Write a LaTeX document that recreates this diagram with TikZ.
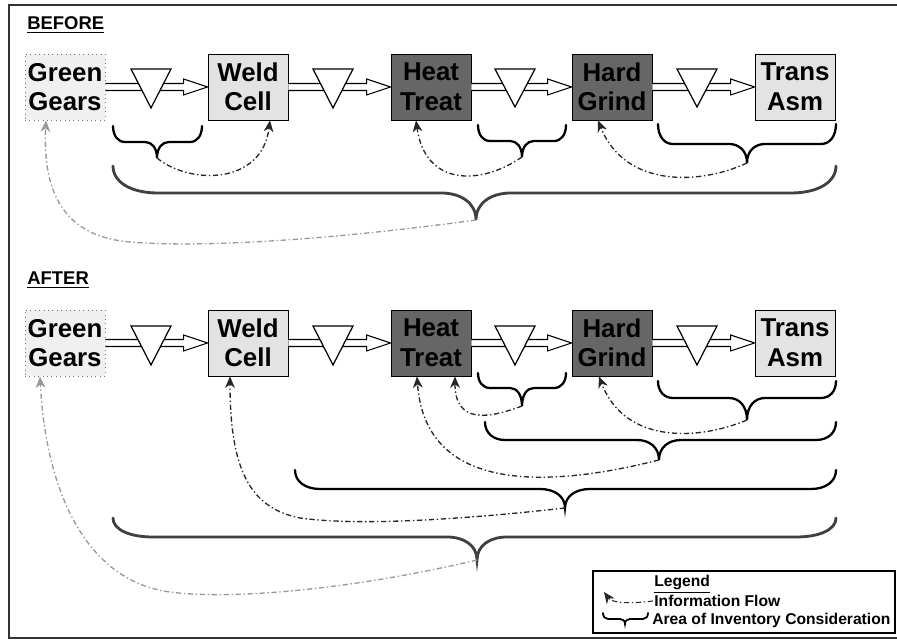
\documentclass[tikz,border=0pt]{standalone}
\usepackage{fontspec}
\setmainfont{Liberation Sans}
\usetikzlibrary{calc,arrows.meta}
\tikzset{
 box/.style={draw=black, line width=0.5pt, minimum width=1.6cm, minimum height=1.32cm, inner sep=0pt, align=center, font=\bfseries\fontsize{14.7}{16.8}\selectfont},
 gbox/.style={box, draw=black!55, dotted, fill=gray!12},
 lbox/.style={box, fill=gray!22},
 dbox/.style={box, fill=black!60},
 hollow/.style={draw=black, line width=0.6pt, fill=white, line join=miter},
 inv/.style={draw=black, line width=0.7pt, fill=white, line join=miter},
 brc/.style={line width=1.3pt, black, line cap=round},
 flow/.style={line width=0.75pt, black!85, dash pattern=on 3pt off 1.5pt on 0.8pt off 1.5pt, -{Stealth[length=6.5pt,width=5.5pt,inset=2pt]}},
 gflow/.style={flow, black!40},
 lbl/.style={font=\bfseries\fontsize{10.5}{12}\selectfont, inner sep=0pt, anchor=base west},
 leg/.style={font=\bfseries\fontsize{8.9}{11}\selectfont, inner sep=0pt, anchor=base west},
}
% brace: [opts] x1 x2 xm ytop yhoriz ytip Rend Rmid
\newcommand\invbrace[9][]{%
 \draw[brc,#1] (#2,#5) .. controls (#2,{#5+0.6*(#6-#5)}) and ({#2+0.4*#8},#6) .. ({#2+#8},#6)
  -- ({#4-#9},#6) .. controls ({#4-0.45*#9},#6) and (#4,{#6+0.35*(#7-#6)}) .. (#4,#7)
  .. controls (#4,{#6+0.35*(#7-#6)}) and ({#4+0.45*#9},#6) .. ({#4+#9},#6)
  -- ({#3-#8},#6) .. controls ({#3-0.4*#8},#6) and (#3,{#5+0.6*(#6-#5)}) .. (#3,#5);}
\newcommand\hollowarrow[2]{%
 \draw[hollow] ($(#1.east)+(0,-3.5)$) -- ($(#2.west)+(-24,-3.5)$) -- ($(#2.west)+(-24,-8)$)
  -- (#2.west) -- ($(#2.west)+(-24,8)$) -- ($(#2.west)+(-24,3.5)$) -- ($(#1.east)+(0,3.5)$);}
\newcommand\invtri[3]{\draw[inv] ({#1-20},#2) -- ({#1+20},#2) -- (#1,#3) -- cycle;}
\begin{document}
\begin{tikzpicture}[x={(0.02cm,0)}, y={(0,-0.02cm)}]
\useasboundingbox (0,0) rectangle (897,641);
\fill[white] (0,0) rectangle (897,641);
\draw[line width=1pt, black!80] (905,5) -- (9,5) -- (9,638) -- (905,638);

% ---------- BEFORE ----------
\node[lbl] (lb1) at (27,30) {\underline{BEFORE}};
\node[gbox] (gg1) at (65,87) {Green\\Gears};
\node[lbox] (wc1) at (248,87) {Weld\\Cell};
\node[dbox] (ht1) at (431,87) {Heat\\Treat};
\node[dbox] (hg1) at (612,87) {Hard\\Grind};
\node[lbox] (ta1) at (795,87) {Trans\\Asm};
\hollowarrow{gg1}{wc1}
\hollowarrow{wc1}{ht1}
\hollowarrow{ht1}{hg1}
\hollowarrow{hg1}{ta1}
\invtri{151}{69}{108}
\invtri{333}{69}{108}
\invtri{515}{69}{107}
\invtri{697}{69}{107}
\invbrace{113}{202}{157}{126}{142}{158}{12}{12}
\invbrace{478}{566}{522}{125}{141}{157}{12}{12}
\invbrace{658}{836}{747}{124}{144}{163}{15}{18}
\invbrace[black!75,line width=1.6pt]{113}{836}{476}{166}{193}{220}{45}{35}
\coordinate (t11) at (157,158);
\coordinate (t12) at (522,157);
\coordinate (t13) at (747,163);
\coordinate (t14) at (476,220);
\draw[flow] (t11) .. controls (190,185) and (262,185) .. ($(wc1.south)+(22,0)$);
\draw[flow] (t12) .. controls (480,186) and (425,186) .. ($(ht1.south)+(-15,0)$);
\draw[flow] (t13) .. controls (700,185) and (625,188) .. ($(hg1.south)+(-14,0)$);
\draw[gflow] (t14) .. controls (330,240) and (200,248) .. (130,242) .. controls (70,237) and (42,200) .. ($(gg1.south)+(-19,0)$);

% ---------- AFTER ----------
\node[lbl] (lb2) at (27,285) {\underline{AFTER}};
\node[gbox] (gg2) at (65,343) {Green\\Gears};
\node[lbox] (wc2) at (248,343) {Weld\\Cell};
\node[dbox] (ht2) at (431,343) {Heat\\Treat};
\node[dbox] (hg2) at (612,343) {Hard\\Grind};
\node[lbox] (ta2) at (795,343) {Trans\\Asm};
\hollowarrow{gg2}{wc2}
\hollowarrow{wc2}{ht2}
\hollowarrow{ht2}{hg2}
\hollowarrow{hg2}{ta2}
\invtri{151}{326}{365}
\invtri{333}{326}{365}
\invtri{515}{326}{365}
\invtri{697}{326}{365}
\invbrace{478}{566}{522}{373}{388}{406}{12}{12}
\invbrace{658}{836}{747}{381}{398}{420}{15}{18}
\invbrace{485}{836}{659}{422}{440}{460}{20}{22}
\invbrace{295}{836}{565}{470}{489}{508}{25}{25}
\invbrace[black!75,line width=1.6pt]{113}{836}{477}{518}{537}{560}{40}{30}
\coordinate (t21) at (522,406);
\coordinate (t22) at (747,420);
\coordinate (t23) at (659,460);
\coordinate (t24) at (565,508);
\coordinate (t25) at (477,560);
\draw[flow] (t21) .. controls (490,418) and (455,425) .. ($(ht2.south)+(24,0)$);
\draw[flow] (t22) .. controls (700,440) and (625,445) .. ($(hg2.south)+(-13,0)$);
\draw[flow] (t23) .. controls (540,490) and (425,490) .. ($(ht2.south)+(-14,0)$);
\draw[flow] (t24) .. controls (440,522) and (350,525) .. (300,518) .. controls (250,508) and (230,470) .. ($(wc2.south)+(-18,0)$);
\draw[gflow] (t25) .. controls (350,590) and (230,600) .. (170,592) .. controls (80,580) and (45,480) .. ($(gg2.south)+(-25,0)$);

% ---------- LEGEND ----------
\draw[line width=0.8pt] (593,571) rectangle (895,633);
\node[leg] (lt) at (654,587) {\underline{Legend}};
\node[leg] (lf) at (654,607) {Information Flow};
\node[leg] (la) at (652,625) {Area of Inventory Consideration};
\coordinate (lfa) at (653,601);
\coordinate (lfb) at (604,592);
\draw[flow, line width=0.6pt] (lfa) .. controls (630,604) and (612,603) .. (lfb);
\invbrace[line width=1pt]{603}{648}{625}{613}{619}{624}{5}{5}
\end{tikzpicture}
\end{document}
